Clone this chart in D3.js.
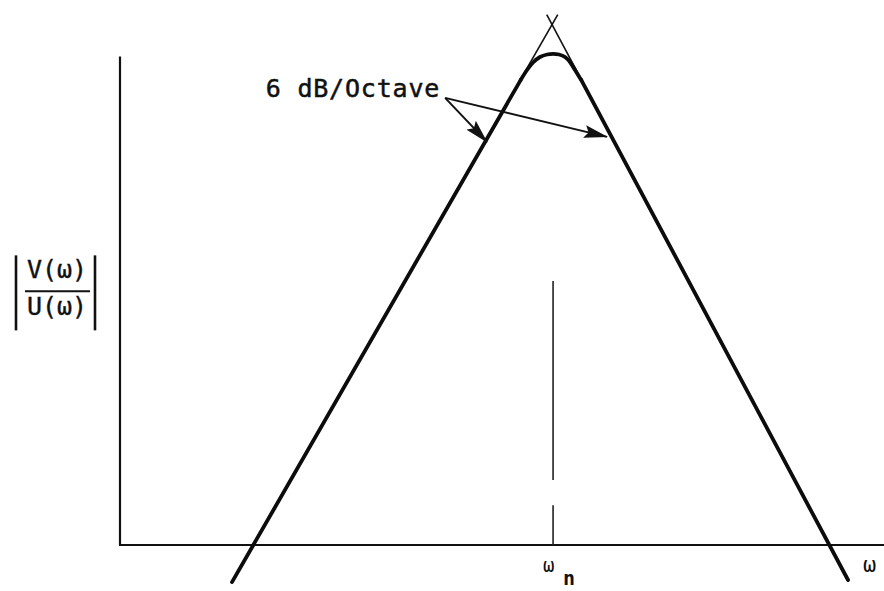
<!DOCTYPE html>
<html>
<head>
<meta charset="utf-8">
<script src="https://cdn.jsdelivr.net/npm/d3@7"></script>
<style>
  html, body { margin: 0; padding: 0; background: #fff; }
  svg { display: block; }
  text { font-family: "DejaVu Sans Mono", monospace; fill: #111; }
</style>
</head>
<body>
<svg id="chart" width="884" height="591"></svg>
<script>
// Normalised frequency (w / wn) on a log axis, magnitude in dB
const freqDomain = [1 / 64, 24];
const dbDomain = [0, 26];
const axisTopDb = 23.3;

// Straight-line asymptotes (+6 dB/octave below wn, -6 dB/octave above)
const leftAsymW = [0.0458, 1.046];
const leftAsymDb = [-1.77, 25.3];
const rightAsymW = [0.941, 16.99];
const rightAsymDb = [25.3, -1.67];

// Actual response: follows the asymptotes, rounds off near the resonance
const responseW = [0.0458, 0.7324, 0.7787, 0.8249, 0.8822, 0.9436, 1.0, 1.0588, 1.1216, 1.1767, 1.2346, 1.3117, 16.99];
const responseDb = [-1.77, 22.18, 22.66, 23.02, 23.28, 23.40, 23.43, 23.40, 23.28, 23.04, 22.66, 22.18, -1.67];
// Index range of the rounded part around the peak
const peakStart = 1;
const peakEnd = 11;

// Marker at the natural frequency wn (broken vertical line)
const markerW = 1;
const markerSegmentsDb = [[12.6, 3.1], [1.9, 0]];

// Slope annotation arrows
const arrowTailW = 0.3546;
const arrowTailDb = 21.33;
const arrowTipW = [0.530, 1.679];
const arrowTipDb = [19.23, 19.47];
const slopeLabel = "6 dB/Octave";

const svg = d3.select("#chart");
const x = d3.scaleLog().base(2).domain(freqDomain).range([120, 884]);
const y = d3.scaleLinear().domain(dbDomain).range([545, 0]);

// Axes (plain lines, no ticks)
svg.append("line")
  .attr("x1", x(freqDomain[0])).attr("x2", x(freqDomain[0]))
  .attr("y1", y(0)).attr("y2", y(axisTopDb))
  .attr("stroke", "#111").attr("stroke-width", 2.2);
svg.append("line")
  .attr("x1", x(freqDomain[0]) - 1).attr("x2", x(freqDomain[1]))
  .attr("y1", y(0)).attr("y2", y(0))
  .attr("stroke", "#111").attr("stroke-width", 2.2);

const straight = d3.line().x(d => x(d[0])).y(d => y(d[1]));
const rounded = d3.line().x(d => x(d[0])).y(d => y(d[1])).curve(d3.curveMonotoneX);

// Thin asymptotes
[[leftAsymW, leftAsymDb], [rightAsymW, rightAsymDb]].forEach(([ws, dbs]) => {
  svg.append("path")
    .attr("d", straight(d3.zip(ws, dbs)))
    .attr("fill", "none").attr("stroke", "#111").attr("stroke-width", 1.6);
});

// Response curve: straight flanks joined by a rounded peak
const resp = d3.zip(responseW, responseDb);
const pieces = [
  { pts: resp.slice(0, peakStart + 1), gen: straight },
  { pts: resp.slice(peakStart, peakEnd + 1), gen: rounded },
  { pts: resp.slice(peakEnd), gen: straight }
];
pieces.forEach(p => {
  svg.append("path")
    .attr("d", p.gen(p.pts))
    .attr("fill", "none").attr("stroke", "#0c0c0c")
    .attr("stroke-width", 3.8).attr("stroke-linecap", "round").attr("stroke-linejoin", "round");
});

// Natural-frequency marker
markerSegmentsDb.forEach(seg => {
  svg.append("line")
    .attr("x1", x(markerW)).attr("x2", x(markerW))
    .attr("y1", y(seg[0])).attr("y2", y(seg[1]))
    .attr("stroke", "#222").attr("stroke-width", 1.6);
});

// Arrowhead
svg.append("defs").append("marker")
  .attr("id", "head").attr("markerUnits", "userSpaceOnUse")
  .attr("viewBox", "0 0 24 13").attr("markerWidth", 24).attr("markerHeight", 13)
  .attr("refX", 23).attr("refY", 6.5).attr("orient", "auto")
  .append("path").attr("d", "M0,0 L24,6.5 L0,13 L4,6.5 Z").attr("fill", "#111");

arrowTipW.forEach((w, i) => {
  svg.append("line")
    .attr("x1", x(arrowTailW)).attr("y1", y(arrowTailDb))
    .attr("x2", x(w)).attr("y2", y(arrowTipDb[i]))
    .attr("stroke", "#111").attr("stroke-width", 2)
    .attr("marker-end", "url(#head)");
});

svg.append("text")
  .attr("x", x(arrowTailW) - 5).attr("y", y(arrowTailDb) - 1)
  .attr("text-anchor", "end").attr("font-size", 25)
  .attr("letter-spacing", 0.8)
  .attr("stroke", "#111").attr("stroke-width", 0.5)
  .text(slopeLabel);

// Horizontal axis labels
svg.append("text")
  .attr("x", x(markerW) - 10).attr("y", 572)
  .attr("font-size", 19).text("ω");
svg.append("text")
  .attr("x", x(markerW) + 10).attr("y", 585)
  .attr("font-size", 20).attr("font-weight", "bold").text("n");
svg.append("text")
  .attr("x", x(freqDomain[1]) - 21).attr("y", 572)
  .attr("font-size", 22).text("ω");

// Vertical axis label: |V(w)/U(w)|
const lab = svg.append("g").attr("transform", `translate(57, ${y(12.1)})`);
lab.append("line").attr("x1", -32).attr("x2", 33).attr("y1", 0).attr("y2", 0)
  .attr("stroke", "#111").attr("stroke-width", 2);
[-41, 38].forEach(dx => {
  lab.append("line").attr("x1", dx).attr("x2", dx).attr("y1", -36).attr("y2", 39)
    .attr("stroke", "#111").attr("stroke-width", 2.6);
});
lab.append("text").attr("x", 0).attr("y", -13).attr("text-anchor", "middle")
  .attr("font-size", 25).attr("stroke", "#111").attr("stroke-width", 0.4).text("V(ω)");
lab.append("text").attr("x", 0).attr("y", 24).attr("text-anchor", "middle")
  .attr("font-size", 25).attr("stroke", "#111").attr("stroke-width", 0.4).text("U(ω)");
</script>
</body>
</html>
